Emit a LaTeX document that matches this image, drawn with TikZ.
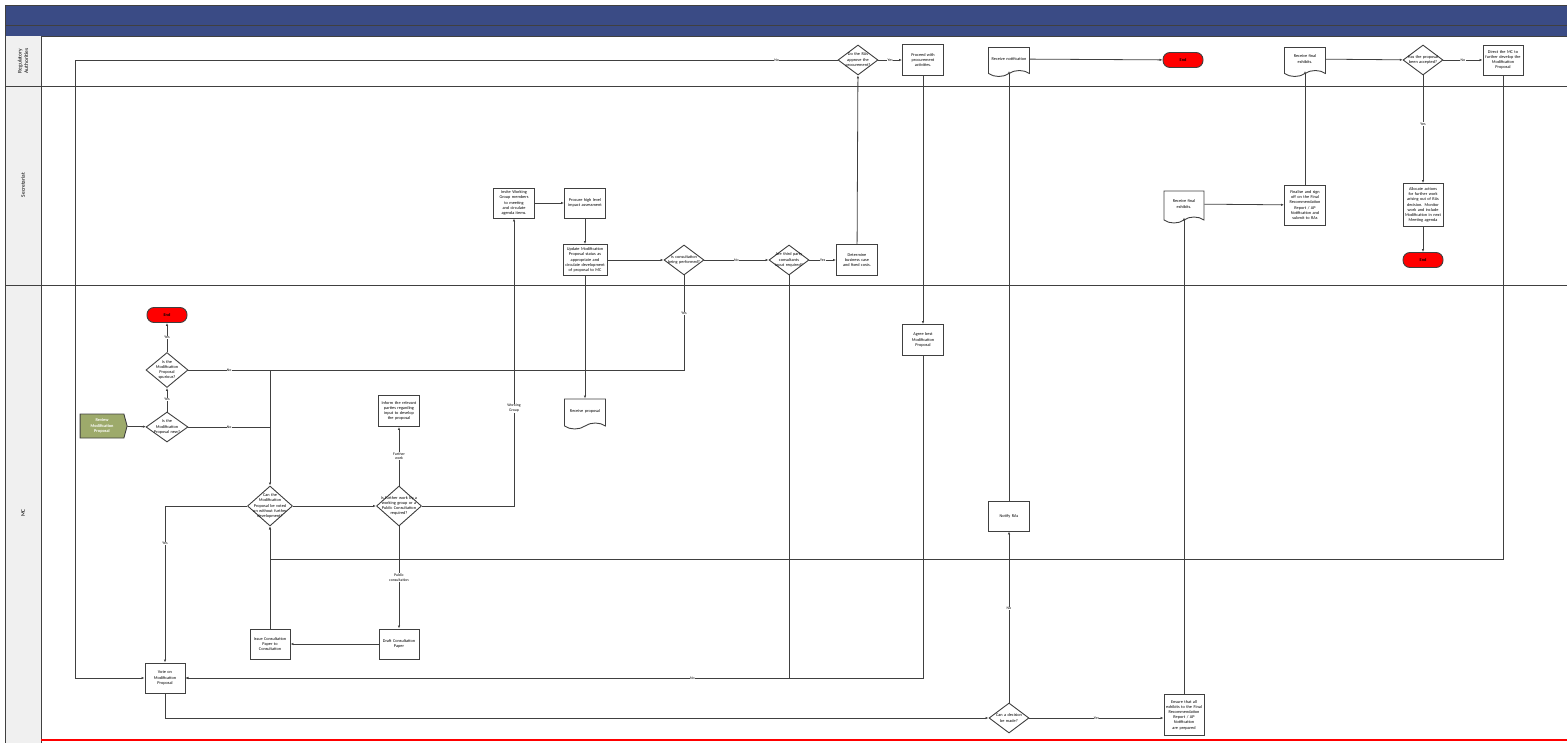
\documentclass[tikz,border=0pt]{standalone}
\usepackage{fontspec}
\setmainfont{Carlito}
\usetikzlibrary{shapes.geometric,shapes.symbols,arrows.meta}
\definecolor{hdrblue}{HTML}{3A4B85}
\definecolor{lanegrey}{HTML}{F0F0F0}
\definecolor{linegrey}{HTML}{404040}
\definecolor{startgreen}{HTML}{9DAA6B}
\hyphenpenalty=10000
\exhyphenpenalty=10000
\newcommand{\boxfont}{\fontsize{4.3}{5.2}\selectfont}
\tikzset{
  box/.style={rectangle, draw=linegrey, line width=0.9pt, fill=white, minimum width=41pt, minimum height=31pt, text width=36pt, inner sep=1pt, align=center, font=\boxfont},
  dec/.style={diamond, draw=linegrey, line width=0.9pt, fill=white, minimum width=40pt, minimum height=30pt, inner sep=0pt},
  dectext/.style={text width=33pt, align=center, font=\boxfont},
  docu/.style={tape, tape bend top=none, tape bend height=6pt, draw=linegrey, line width=0.9pt, fill=white, minimum width=41pt, minimum height=29pt, text width=36pt, inner sep=1pt, align=center, font=\boxfont},
  ender/.style={rectangle, rounded corners=7pt, draw=linegrey, line width=0.9pt, fill=red, minimum width=40pt, minimum height=15pt, font=\boxfont\bfseries},
  lanetext/.style={rotate=90, align=center, font=\fontsize{5.5}{6.5}\selectfont},
  conn/.style={draw=linegrey, line width=0.8pt},
  flow/.style={conn, ->},
  yn/.style={font=\fontsize{3.9}{4.6}\selectfont, fill=white, inner sep=0.4pt},
}
\begin{document}
\begin{tikzpicture}[x=1pt, y=-1pt, >={Latex[length=3pt,width=2.4pt]}]
\useasboundingbox (0,0) rectangle (1567,743);
% swimlanes
\fill[hdrblue] (5,5) rectangle (1567,36);
\draw[linegrey, line width=0.8pt] (5,5) -- (1567,5) (5,25) -- (1567,25) (5,36) -- (1567,36);
\fill[lanegrey] (5,36) rectangle (41,743);
\draw[linegrey, line width=0.8pt] (5,5) -- (5,743) (41,36) -- (41,743);
\draw[linegrey, line width=0.8pt] (5,86) -- (1567,86) (5,285) -- (1567,285);
\draw[red, line width=2pt] (41,740) -- (1567,740);
\node[lanetext] (lra) at (23,61) {Regulatory\\Authorities};
\node[lanetext] (lsec) at (23,185) {Secretariat};
\node[lanetext] (lmc) at (23,513) {MC};

% Regulatory Authorities
\node[dec, label={[dectext]center:Do the RAs approve the procurement?}] (qapp) at (858,60) {};
\node[box] (proc) at (923,60) {Proceed with procurement activities.};
\node[docu] (rnot) at (1009,59) {Receive notification};
\node[ender] (endra) at (1183,60) {End};
\node[docu] (rfin) at (1305,59) {Receive final exhibits.};
\node[dec, label={[dectext]center:Has the proposal been accepted?}] (qacc) at (1423,60) {};
\node[box, minimum width=40pt, minimum height=30pt] (dirmc) at (1503,60) {Direct the MC to further develop the Modification Proposal};

% Secretariat
\node[box, minimum height=30pt] (invite) at (514,203) {Invite Working Group members to meeting and circulate agenda items.};
\node[box, minimum height=30pt] (procure) at (585,203) {Procure high level impact assessment};
\node[box, minimum width=44pt, text width=40pt] (update) at (585,260) {Update Modification Proposal status as appropriate and circulate development of proposal to MC};
\node[dec, label={[dectext]center:Is consultation being performed?}] (qcons) at (684,260) {};
\node[dec, label={[dectext]center:Are third party consultants input required?}] (qthird) at (789,260) {};
\node[box] (determine) at (857,260) {Determine business case and fixed costs.};
\node[docu, minimum width=40pt, minimum height=32pt] (rfinsec) at (1184,204) {Receive final exhibits.};
\node[box, minimum height=40pt] (finalise) at (1305,205) {Finalise and sign off on the Final Recommendation Report / AP Notification and submit to RAs};
\node[box, minimum width=40pt, minimum height=43pt] (allocate) at (1423,205) {Allocate actions for further work arising out of RAs decision. Monitor work and include Modification in next Meeting agenda};
\node[ender] (endsec) at (1423,260) {End};

% MC
\node[ender] (endmc) at (167,315) {End};
\node[dec, minimum width=42pt, minimum height=35pt, label={[dectext]center:Is the Modification Proposal spurious?}] (qspur) at (167,370) {};
\node[signal, signal to=east, signal pointer angle=150, draw=linegrey, line width=0.9pt, fill=startgreen, minimum width=47pt, minimum height=24pt, text width=36pt, inner sep=1pt, align=center, text=white, font=\boxfont\bfseries] (review) at (102,426) {Review Modification Proposal};
\node[dec, minimum width=42pt, label={[dectext]center:Is the Modification Proposal new?}] (qnew) at (167,427) {};
\node[box] (inform) at (399,411) {Inform the relevant parties regarding input to develop the proposal};
\node[docu, minimum height=30pt] (rprop) at (585,411) {Receive proposal};
\node[box] (agree) at (923,340) {Agree best Modification Proposal};
\node[dec, minimum width=45pt, minimum height=40pt, label={[dectext, text width=37pt]center:Can the Modification Proposal be voted on without further development?}] (qvote) at (270,506) {};
\node[dec, minimum width=45pt, minimum height=40pt, label={[dectext, text width=37pt]center:Is further work by a working group or a Public Consultation required?}] (qfurther) at (399,506) {};
\node[box, minimum height=30pt] (notify) at (1009,516) {Notify RAs};
\node[box, minimum width=40pt, minimum height=30pt] (draft) at (399,644) {Draft Consultation Paper};
\node[box, minimum width=40pt, minimum height=30pt] (issue) at (270,644) {Issue Consultation Paper to Consultation};
\node[box, minimum width=40pt, minimum height=30pt] (vote) at (165,678) {Vote on Modification Proposal};
\node[dec, label={[dectext]center:Can a decision be made?}] (qdec) at (1009,718) {};
\node[box, minimum width=40pt, minimum height=41pt] (ensure) at (1184,715) {Ensure that all exhibits to the Final Recommendation Report / AP Notification are prepared};

\coordinate (jA) at (270,370);
\coordinate (jB) at (270,559);
\coordinate (cLeft) at (75,678);

% connectors
\draw[flow] (review) -- (qnew);
\draw[flow] (qnew) -- node[yn]{Yes} (qspur);
\draw[flow] (qspur) -- node[yn]{Yes} (endmc);
\draw[conn] (qspur.east) -- node[yn]{No} (jA);
\draw[conn] (qnew.east) -- node[yn]{No} (qnew.east -| jA);
\draw[flow] (qcons.south) |- node[yn, pos=0.2]{Yes} (jA) -- (qvote.north);
\draw[flow] (qvote) -- (qfurther);
\draw[flow] (qvote.west) -| node[yn, pos=0.62]{Yes} (vote.north);
\draw[flow] (qfurther) -- node[yn, align=center]{Further\\work} (inform);
\draw[flow] (qfurther.east) -| node[yn, pos=0.67, align=center]{Working\\Group} (invite.south);
\draw[flow] (qfurther) -- node[yn, align=center]{Public\\consultation} (draft);
\draw[flow] (draft) -- (issue);
\draw[flow] (issue) -- (qvote.south);
\draw[flow] (dirmc.south) |- (jB) -- (qvote.south);
\draw[flow] (vote.south) |- (qdec.west);
\draw[flow] (qdec) -- node[yn, pos=0.55]{No} (notify);
\draw[flow] (qdec.east) -- node[yn]{Yes} (qdec.east -| ensure.west);
\draw[flow] (notify) -- (rnot.south);
\draw[flow] (rnot) -- (endra);
\draw[flow] (ensure) -- (rfinsec.south);
\draw[flow] (rfinsec) -- (finalise);
\draw[flow] (finalise) -- (rfin.south);
\draw[flow] (rfin) -- (qacc);
\draw[flow] (qacc) -- node[yn]{No} (dirmc);
\draw[flow] (qacc) -- node[yn, pos=0.45]{Yes} (allocate);
\draw[flow] (allocate) -- (endsec);
\draw[flow] (invite) -- (procure);
\draw[flow] (procure) -- (update);
\draw[flow] (update) -- (qcons);
\draw[flow] (qcons) -- node[yn]{No} (qthird);
\draw[flow] (qthird) -- node[yn]{Yes} (determine);
\draw[flow] (determine) -- (qapp);
\draw[flow] (qapp) -- node[yn]{Yes} (proc);
\draw[flow] (qapp.west) -| node[yn, pos=0.04]{No} (cLeft) -- (vote.west);
\draw[flow] (proc) -- (agree);
\draw[flow] (agree.south) |- (vote.east);
\draw[flow] (qthird.south) |- node[yn, pos=0.58]{No} (vote.east);
\draw[flow] (update) -- (rprop);
\end{tikzpicture}
\end{document}
